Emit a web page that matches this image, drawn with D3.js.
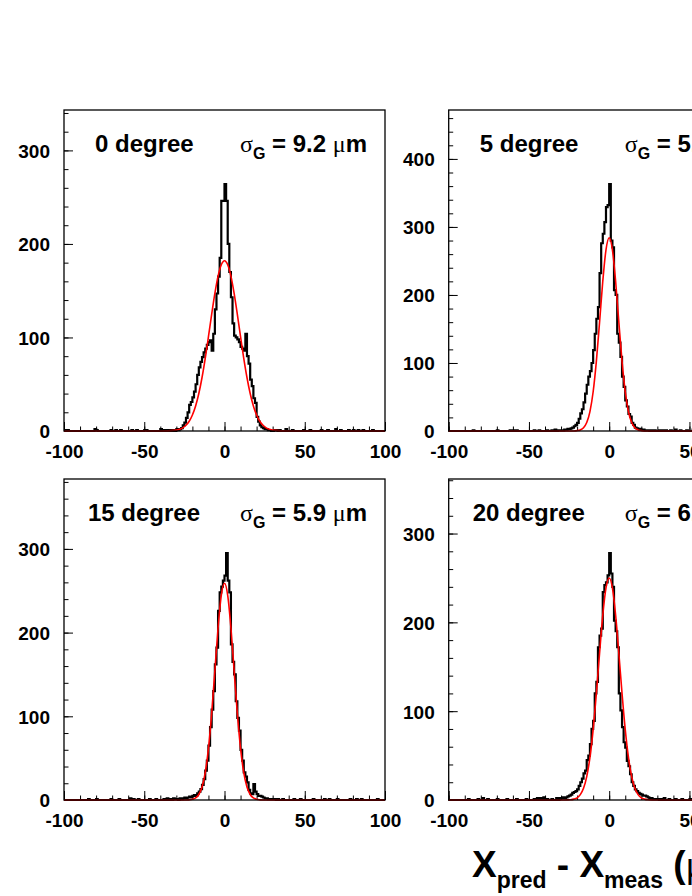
<!DOCTYPE html>
<html>
<head>
<meta charset="utf-8">
<script src="https://cdn.jsdelivr.net/npm/d3@7"></script>
<style>
  body { margin: 0; background: #fff; }
  text { font-family: "Liberation Sans", Arial, sans-serif; }
</style>
</head>
<body>
<svg id="fig" width="692" height="896"></svg>
<script>
// ---- data ----
const panelNames = ["0 degree", "5 degree", "15 degree", "20 degree"];
const sigmaValues = ["9.2", "5.6", "5.9", "6.6"];
const xTicks = [-100, -50, 0, 50, 100];

// counts of the 1-unit bins from -30 to 29
const coreStart = -30;
const counts0 = [2,1,2,3,6,9,14,20,28,31, 36,42,50,60,68,74,79,84,88,92,
  95,97,86,104,130,147,165,185,246,246, 264,246,200,170,143,115,102,100,98,95,
  90,88,86,104,80,72,55,48,35,30, 15,10,6,4,3,2,2,1,1,0];
const counts1 = [1,1,2,2,3,3,4,5,7,9, 12,18,26,32,42,55,68,80,88,100,
  119,143,165,182,232,276,290,307,329,332, 363,280,270,207,200,143,130,109,80,65,
  45,36,25,21,12,9,5,4,3,3, 2,2,1,1,1,0,1,0,1,0];
const counts2 = [1,0,2,1,2,3,2,3,4,3, 5,6,5,8,10,13,18,25,35,47,
  65,87,108,130,162,182,226,248,255,262, 268,295,262,248,186,165,150,118,98,83,
  60,47,33,28,21,12,8,7,19,10, 7,5,5,4,3,2,2,1,1,1];
const counts3 = [2,3,2,3,4,5,6,8,9,10, 12,16,20,24,30,33,45,50,63,80,
  89,120,133,172,185,193,234,242,245,253, 278,255,240,202,190,172,120,101,82,65,
  59,44,38,29,20,16,12,10,8,7, 6,5,5,4,3,2,2,1,1,1];

// sparse tail bins [bin low edge, count]
const tails0 = [[-99,1],[-98,1],[-81,2],[-80,1],[-71,1],[-68,1],[-65,1],[-58,1],[-55,1],[-50,1],[-49,1],
  [-40,2],[-38,1],[-36,1],[-34,1],[-32,1],[31,1],[32,1],[34,1],[38,2],[42,1],[49,1],[53,1],[60,1],
  [64,1],[69,2],[72,1],[77,1],[80,1],[83,1],[86,1],[92,1]];
const tails1 = [[-85,1],[-70,1],[-62,1],[-60,1],[-58,1],[-47,1],[-44,1],[-39,1],[-36,1],[-34,2],[-32,1],
  [-31,1],[31,1],[33,1],[35,1],[38,1],[41,2],[44,1],[48,1],[52,2],[55,1],[60,1],[66,1],[72,1],[78,1],
  [88,1],[95,1]];
const tails2 = [[-85,1],[-80,1],[-71,1],[-66,1],[-59,2],[-57,1],[-54,1],[-47,1],[-43,1],[-38,1],[-36,2],
  [-34,1],[-32,2],[-31,1],[30,1],[31,1],[33,1],[36,1],[43,1],[47,1],[55,1],[62,1],[65,1],[70,1],
  [78,1],[82,1],[85,1],[95,1]];
const tails3 = [[-88,1],[-82,1],[-79,2],[-76,1],[-70,1],[-64,1],[-58,1],[-52,1],[-47,1],[-45,2],[-43,2],
  [-41,3],[-39,1],[-36,1],[-33,2],[-31,2],[30,1],[32,1],[34,2],[37,1],[41,1],[45,1],[50,1],[56,1],
  [63,1],[71,1],[80,1]];

// gaussian fit curves, read at these x positions
const fitX = [-100,-40,-30,-28,-26,-24,-22,-20,-18,-16,-14,-12,-10,-8,-6,-4,-2,0,
  2,4,6,8,10,12,14,16,18,20,22,24,26,28,30,40,100];
const fit0 = [0,0,0.9,1.8,3.4,6.1,10.4,17.1,26.8,40.1,57.2,77.7,100.8,124.7,147.1,165.6,177.7,182,
  177.7,165.6,147.1,124.7,100.8,77.7,57.2,40.1,26.8,17.1,10.4,6.1,3.4,1.8,0.9,0,0];
const fit1 = [0,0,0,0,0,0,0.1,0.5,1.6,4.8,12.5,28.6,57.7,102.4,160.0,220.1,266.4,284,
  266.4,220.1,160.0,102.4,57.7,28.6,12.5,4.8,1.6,0.5,0.1,0,0,0,0,0,0];
const fit2 = [0,0,0,0,0,0,0.2,0.8,2.5,6.6,15.5,32.7,61.6,103.3,154.4,205.8,244.5,259,
  244.5,205.8,154.4,103.3,61.6,32.7,15.5,6.6,2.5,0.8,0.2,0,0,0,0,0,0];
const fit3 = [0,0,0,0,0.1,0.3,1.0,2.5,6.1,13.2,26.4,47.9,79.3,119.9,165.4,208.1,238.8,250,
  238.8,208.1,165.4,119.9,79.3,47.9,26.4,13.2,6.1,2.5,1.0,0.3,0.1,0,0,0,0];

const allCounts = [counts0, counts1, counts2, counts3];
const allTails = [tails0, tails1, tails2, tails3];
const allFits = [fit0, fit1, fit2, fit3];

// ---- layout ----
const svg = d3.select("#fig");
const W = 321, H = 321;
const colX = [64, 448.7];
const rowY = [110, 479];
const labelDx = [31, 31, 24, 24];
const plain = d => String(d); // hyphen minus, like the original

function drawPanel(i) {
  const left = colX[i % 2];
  const top = rowY[Math.floor(i / 2)];
  const core = allCounts[i];

  // put the bins together, -100 .. 99
  const bins = d3.range(-100, 100).map(lo => ({ x: lo, c: 0 }));
  core.forEach((c, k) => { bins[coreStart + k + 100].c = c; });
  allTails[i].forEach(([lo, c]) => { bins[lo + 100].c = c; });
  const pts = bins.concat([{ x: 100, c: bins[bins.length - 1].c }]);

  const ymax = d3.max(core) * 1.3;
  const x = d3.scaleLinear().domain([-100, 100]).range([0, W]);
  const y = d3.scaleLinear().domain([0, ymax]).range([H, 0]);

  const g = svg.append("g").attr("transform", `translate(${left},${top})`);

  // minor ticks
  g.append("g")
    .call(d3.axisLeft(y).tickValues(d3.range(0, ymax, 20)).tickSize(-4.5).tickFormat(""))
    .call(a => a.select(".domain").remove());
  g.append("g").attr("transform", `translate(0,${H})`)
    .call(d3.axisBottom(x).tickValues(d3.range(-100, 101, 10)).tickSize(-4.5).tickFormat(""))
    .call(a => a.select(".domain").remove());

  // major ticks + labels
  g.append("g")
    .call(d3.axisLeft(y).tickValues(d3.range(0, ymax, 100)).tickSize(-9).tickPadding(14).tickFormat(plain))
    .call(a => a.select(".domain").remove())
    .call(a => a.selectAll("text").attr("font-size", 19).attr("font-weight", "bold")
      .attr("font-family", "Liberation Sans, Arial, sans-serif").attr("dy", "0.36em"));
  g.append("g").attr("transform", `translate(0,${H})`)
    .call(d3.axisBottom(x).tickValues(xTicks).tickSize(-9).tickPadding(14).tickFormat(plain))
    .call(a => a.select(".domain").remove())
    .call(a => a.selectAll("text").attr("font-size", 19).attr("font-weight", "bold")
      .attr("font-family", "Liberation Sans, Arial, sans-serif"));
  g.selectAll(".tick line").attr("stroke", "#000").attr("stroke-width", 1);

  // histogram
  const histLine = d3.line().x(d => x(d.x)).y(d => y(d.c)).curve(d3.curveStepAfter);
  g.append("path").datum(pts)
    .attr("d", histLine)
    .attr("fill", "none").attr("stroke", "#000").attr("stroke-width", 2.2);

  // fit
  const fitLine = d3.line().x((d, k) => x(fitX[k])).y(d => y(d)).curve(d3.curveMonotoneX);
  g.append("path").datum(allFits[i])
    .attr("d", fitLine)
    .attr("fill", "none").attr("stroke", "#ff0000").attr("stroke-width", 1.6);

  // frame
  g.append("rect").attr("width", W).attr("height", H)
    .attr("fill", "none").attr("stroke", "#000").attr("stroke-width", 1.3);

  // labels
  g.append("text").attr("x", labelDx[i]).attr("y", 42)
    .attr("font-size", 24).attr("font-weight", "bold").text(panelNames[i]);

  const s = g.append("text").attr("x", 176).attr("y", 42).attr("font-size", 24).attr("font-weight", "bold");
  s.append("tspan").attr("font-family", "Liberation Serif, serif").attr("font-weight", "normal").text("σ");
  s.append("tspan").attr("font-size", 16).attr("dy", 7).text("G");
  s.append("tspan").attr("dy", -7).text(` = ${sigmaValues[i]} `);
  s.append("tspan").attr("font-family", "Liberation Serif, serif").attr("font-weight", "normal").text("μ");
  s.append("tspan").text("m");
}

[0, 1, 2, 3].forEach(drawPanel);

// x axis title
const t = svg.append("text").attr("x", 472).attr("y", 877)
  .attr("font-size", 37).attr("font-weight", "bold");
t.append("tspan").text("X");
t.append("tspan").attr("font-size", 23).attr("dy", 11).text("pred");
t.append("tspan").attr("dy", -11).text(" - X");
t.append("tspan").attr("font-size", 23).attr("dy", 11).text("meas");
t.append("tspan").attr("dy", -11).text(" (");
t.append("tspan").attr("font-family", "Liberation Serif, serif").attr("font-weight", "normal").text("μ");
t.append("tspan").text("m)");
</script>
</body>
</html>
